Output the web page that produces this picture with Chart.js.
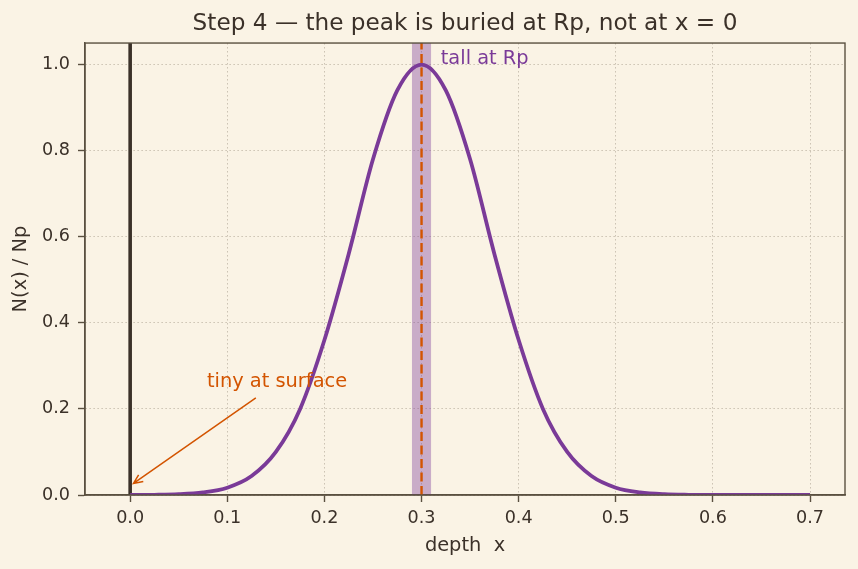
<!DOCTYPE html>
<html>
<head>
<meta charset="utf-8">
<script src="https://cdn.jsdelivr.net/npm/chart.js@4.4.1/dist/chart.umd.min.js"></script>
<style>
  html, body { margin: 0; padding: 0; background: #faf3e5; }
  #wrap { width: 858px; height: 569px; }
</style>
</head>
<body>
<div id="wrap"><canvas id="profileChart" width="858" height="569"></canvas></div>
<script>
// values
const depth = [0, 0.025, 0.05, 0.075, 0.1, 0.125, 0.15, 0.175, 0.2, 0.225, 0.25, 0.275, 0.3,
  0.325, 0.35, 0.375, 0.4, 0.425, 0.45, 0.475, 0.5, 0.525, 0.55, 0.575, 0.6, 0.625, 0.65, 0.675, 0.7];
const conc = [0.0001, 0.0004, 0.0017, 0.006, 0.017, 0.044, 0.10, 0.20, 0.36, 0.56, 0.78, 0.94, 1.0,
  0.94, 0.78, 0.56, 0.36, 0.20, 0.10, 0.044, 0.017, 0.006, 0.0017, 0.0004, 0.0001, 0, 0, 0, 0];
const xTicks = [0, 0.1, 0.2, 0.3, 0.4, 0.5, 0.6, 0.7];
const yTicks = [0, 0.2, 0.4, 0.6, 0.8, 1.0];
const Rp = 0.3;
const bandEdges = [0.29, 0.31];
const yTop = 1.05;

const ink = '#3b3129';
const spine = '#5a5040';
const purple = '#7a3a98';
const orange = '#d35400';
const fam = 'DejaVu Sans';

// text notes + arrow, placed in data coordinates
const notes = {
  id: 'notes',
  afterDatasetsDraw(chart) {
    const { ctx, chartArea: a, scales: { x, y } } = chart;
    ctx.save();
    ctx.font = '19.4px "DejaVu Sans"';
    ctx.textBaseline = 'middle';
    ctx.textAlign = 'left';
    ctx.fillStyle = purple;
    ctx.fillText('tall at Rp', x.getPixelForValue(0.3198), y.getPixelForValue(1.013));
    ctx.fillStyle = orange;
    ctx.fillText('tiny at surface', x.getPixelForValue(0.079), y.getPixelForValue(0.2617));

    // arrow
    const x0 = x.getPixelForValue(0.1294), y0 = y.getPixelForValue(0.2258);
    const x1 = x.getPixelForValue(0.0034), y1 = y.getPixelForValue(0.027);
    ctx.strokeStyle = orange;
    ctx.lineWidth = 1.5;
    ctx.beginPath();
    ctx.moveTo(x0, y0);
    ctx.lineTo(x1, y1);
    const ang = Math.atan2(y0 - y1, x0 - x1);
    const h = 10;
    ctx.moveTo(x1 + h * Math.cos(ang + 0.42), y1 + h * Math.sin(ang + 0.42));
    ctx.lineTo(x1, y1);
    ctx.lineTo(x1 + h * Math.cos(ang - 0.42), y1 + h * Math.sin(ang - 0.42));
    ctx.stroke();

    // full box like the reference
    ctx.strokeStyle = spine;
    ctx.lineWidth = 1.4;
    ctx.strokeRect(a.left, a.top, a.right - a.left, a.bottom - a.top);
    ctx.restore();
  }
};

const bg = {
  id: 'bg',
  beforeDraw(chart) {
    const { ctx, width, height } = chart;
    ctx.save();
    ctx.fillStyle = '#faf3e5';
    ctx.fillRect(0, 0, width, height);
    ctx.restore();
  }
};

const ctx = document.getElementById('profileChart').getContext('2d');

const profileChart = new Chart(ctx, {
  type: 'line',
  data: {
    datasets: [
      {
        label: 'Rp',
        data: [{ x: Rp, y: 0 }, { x: Rp, y: yTop }],
        borderColor: orange,
        borderWidth: 2.4,
        borderDash: [9, 4.5],
        pointRadius: 0
      },
      {
        label: 'N(x)/Np',
        data: depth.map((d, i) => ({ x: d, y: conc[i] })),
        borderColor: purple,
        borderWidth: 3.8,
        pointRadius: 0,
        cubicInterpolationMode: 'monotone'
      },
      {
        label: 'surface',
        data: [{ x: 0, y: 0 }, { x: 0, y: yTop }],
        borderColor: ink,
        borderWidth: 3.6,
        pointRadius: 0
      },
      {
        label: 'band',
        data: [{ x: bandEdges[0], y: yTop }, { x: bandEdges[1], y: yTop }],
        borderWidth: 0,
        borderColor: 'rgba(0,0,0,0)',
        backgroundColor: 'rgba(122, 58, 152, 0.38)',
        fill: 'origin',
        pointRadius: 0
      }
    ]
  },
  options: {
    responsive: false,
    animation: false,
    layout: { padding: { left: 0, right: 13, top: 0, bottom: 0 } },
    plugins: {
      legend: { display: false },
      tooltip: { enabled: false },
      title: {
        display: true,
        fullSize: false,
        text: 'Step 4 — the peak is buried at Rp, not at x = 0',
        color: ink,
        font: { family: fam, size: 23.2, weight: 'normal' },
        padding: { top: 10, bottom: 5.2 }
      }
    },
    scales: {
      x: {
        type: 'linear',
        min: -0.0465,
        max: 0.736,
        afterBuildTicks: s => { s.ticks = xTicks.map(v => ({ value: v })); },
        afterFit: s => { s.height = 74; },
        ticks: {
          color: ink,
          font: { family: fam, size: 17.6 },
          padding: 6,
          maxRotation: 0,
          callback: v => v.toFixed(1)
        },
        grid: { color: '#cbc2b2', lineWidth: 1, tickLength: 7, tickColor: spine, tickWidth: 1.4 },
        border: { color: spine, width: 1.4, dash: [1.5, 2.5] },
        title: {
          display: true,
          text: 'depth  x',
          color: ink,
          font: { family: fam, size: 19.4 },
          padding: { top: 0, bottom: 11.4 }
        }
      },
      y: {
        min: 0,
        max: yTop,
        afterBuildTicks: s => { s.ticks = yTicks.map(v => ({ value: v })); },
        afterFit: s => { s.width = 85; },
        ticks: {
          color: ink,
          font: { family: fam, size: 17.6 },
          padding: 8,
          callback: v => v.toFixed(1)
        },
        grid: { color: '#cbc2b2', lineWidth: 1, tickLength: 7, tickColor: spine, tickWidth: 1.4 },
        border: { color: spine, width: 1.4, dash: [1.5, 2.5] },
        title: {
          display: true,
          text: 'N(x) / Np',
          color: ink,
          font: { family: fam, size: 19.4 },
          padding: { top: 9, bottom: 0 }
        }
      }
    }
  },
  plugins: [bg, notes]
});
</script>
</body>
</html>
